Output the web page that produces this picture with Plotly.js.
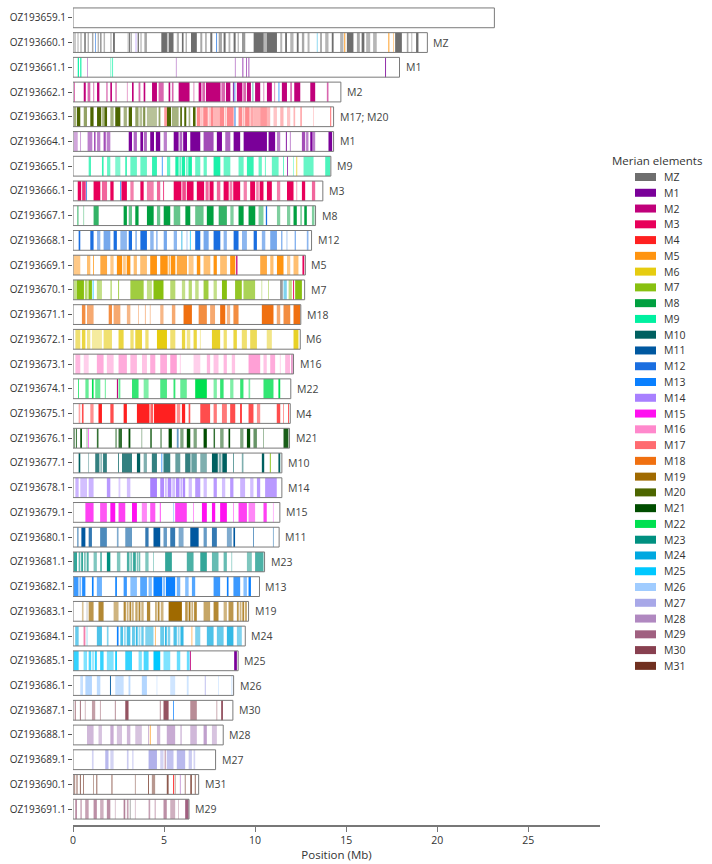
<!DOCTYPE html>
<html>
<head>
<meta charset="utf-8">
<script src="https://cdn.plot.ly/plotly-3.0.1.min.js"></script>
<style>
  html, body { margin: 0; padding: 0; background: #ffffff; }
  #chart { width: 712px; height: 864px; }
</style>
</head>
<body>
<div id="chart"></div>
<script>
// Chromosomes, their lengths (Mb) and the Merian element each one carries
const chromosomes = ['OZ193659.1','OZ193660.1','OZ193661.1','OZ193662.1','OZ193663.1','OZ193664.1','OZ193665.1','OZ193666.1','OZ193667.1','OZ193668.1','OZ193669.1','OZ193670.1','OZ193671.1','OZ193672.1','OZ193673.1','OZ193674.1','OZ193675.1','OZ193676.1','OZ193677.1','OZ193678.1','OZ193679.1','OZ193680.1','OZ193681.1','OZ193682.1','OZ193683.1','OZ193684.1','OZ193685.1','OZ193686.1','OZ193687.1','OZ193688.1','OZ193689.1','OZ193690.1','OZ193691.1'];
const chromLengths = [23.14, 19.46, 17.93, 14.71, 14.31, 14.31, 14.16, 13.72, 13.32, 13.10, 12.76, 12.72, 12.51, 12.48, 12.11, 11.96, 11.93, 11.89, 11.47, 11.47, 11.36, 11.32, 10.52, 10.24, 9.64, 9.46, 9.07, 8.82, 8.78, 8.25, 7.83, 6.90, 6.37];
const chromLabels = ['', 'MZ', 'M1', 'M2', 'M17; M20', 'M1', 'M9', 'M3', 'M8', 'M12', 'M5', 'M7', 'M18', 'M6', 'M16', 'M22', 'M4', 'M21', 'M10', 'M14', 'M15', 'M11', 'M23', 'M13', 'M19', 'M24', 'M25', 'M26', 'M30', 'M28', 'M27', 'M31', 'M29'];

// Merian elements and their colours
const elements = ['MZ','M1','M2','M3','M4','M5','M6','M7','M8','M9','M10','M11','M12','M13','M14','M15','M16','M17','M18','M19','M20','M21','M22','M23','M24','M25','M26','M27','M28','M29','M30','M31'];
const elementColors = ['#6e6e6e','#7a0099','#c0007a','#e8005a','#ff2020','#ff9410','#e6cc10','#88c010','#00a040','#00f0a0','#006060','#0058a0','#1a6ee0','#0a80ff','#a880ff','#ff10f0','#ff88cc','#ff6b70','#f07010','#a06a00','#4d6600','#004d00','#00e050','#009080','#00a8e0','#00c8ff','#a0ccff','#a8a8e8','#b088c0','#a06080','#884050','#703020'];

// Painted segments per chromosome: [start Mb, end Mb, element, opacity]
const OZ193659 = [];
const OZ193660 = [[0.07,0.15,'MZ',.5],[0.26,0.29,'MZ',1],[0.40,0.48,'MZ',.5],[0.62,0.70,'MZ',1],[0.80,0.88,'MZ',.5],[1.04,1.12,'MZ',.6],[1.22,1.26,'M12',.8],[1.35,1.43,'MZ',.5],[1.50,1.56,'MZ',1],[1.68,1.76,'MZ',.5],[2.05,2.12,'MZ',.5],[2.20,2.30,'MZ',1],[3.00,3.06,'MZ',.5],[3.08,3.14,'MZ',1],[3.17,3.24,'MZ',.5],[3.44,3.48,'M14',.8],[3.55,3.62,'MZ',1],[3.70,3.77,'MZ',.5],[3.92,4.06,'MZ',.6],[4.85,5.16,'MZ',1],[5.16,5.27,'MZ',.4],[5.27,5.52,'MZ',1],[5.70,5.82,'MZ',.5],[5.98,6.07,'MZ',1],[6.18,6.26,'MZ',.5],[6.48,6.80,'MZ',1],[6.99,7.10,'MZ',.6],[7.25,7.35,'MZ',.5],[7.54,7.65,'MZ',1],[7.87,7.91,'M12',1],[8.00,8.18,'MZ',.6],[8.27,8.38,'MZ',1],[8.54,8.64,'MZ',.5],[8.82,8.93,'MZ',1],[9.04,9.11,'MZ',.5],[9.28,9.46,'MZ',.7],[9.92,10.47,'MZ',1],[10.47,10.65,'MZ',.5],[10.65,11.20,'MZ',1],[11.38,11.49,'MZ',.5],[11.65,11.75,'MZ',1],[11.93,12.11,'MZ',.5],[12.29,12.39,'MZ',1],[12.57,12.70,'MZ',.6],[12.88,12.99,'MZ',.5],[13.39,13.43,'M24',.6],[13.57,13.67,'MZ',.6],[13.85,14.03,'MZ',.5],[14.21,14.31,'MZ',1],[14.67,14.85,'MZ',.5],[14.90,14.95,'M5',1],[15.04,15.40,'MZ',1],[15.59,15.75,'MZ',.6],[15.85,16.00,'MZ',1],[16.10,16.32,'MZ',.5],[16.48,16.68,'MZ',.5],[17.32,17.37,'M5',1],[17.58,17.63,'M5',.5],[17.69,18.06,'MZ',1],[18.33,18.42,'MZ',.6],[18.58,18.63,'MZ',.5],[18.84,18.97,'MZ',1]];
const OZ193661 = [[0.26,0.33,'M9',.9],[0.40,0.46,'M9',1],[0.77,0.81,'M1',.5],[2.05,2.10,'M9',.5],[2.14,2.20,'M9',.6],[5.65,5.69,'M1',.5],[8.89,8.93,'M1',.6],[9.31,9.35,'M1',1],[9.50,9.54,'M1',.8],[9.64,9.68,'M1',.9],[17.14,17.19,'M1',.9]];
const OZ193662 = [[0.07,0.10,'M2',1],[0.59,0.70,'M2',1],[0.80,0.95,'M2',.6],[1.13,1.16,'M2',1],[1.32,1.45,'M2',1],[1.83,1.90,'M2',.6],[2.05,2.14,'M2',1],[2.32,2.41,'M2',.5],[2.96,3.00,'M2',.5],[3.24,3.33,'M2',1],[3.60,3.70,'M2',.6],[3.88,3.97,'M2',1],[4.34,4.61,'M2',1],[4.70,4.98,'M2',.6],[5.25,5.34,'M2',1],[5.43,5.52,'M2',.6],[5.80,6.40,'M2',1],[6.62,6.66,'M2',.6],[6.90,7.05,'M2',1],[7.10,7.25,'M2',.6],[7.30,8.10,'M2',1],[8.15,8.35,'M2',.6],[8.40,8.64,'M2',1],[8.78,8.84,'M1',.8],[8.87,8.91,'M12',1],[9.00,9.30,'M2',1],[9.35,9.50,'M2',.6],[9.55,9.77,'M2',1],[9.86,9.90,'M23',.8],[10.00,10.28,'M2',1],[10.46,10.50,'M2',.6],[10.65,10.92,'M2',1],[11.05,11.10,'M2',.5],[11.29,11.33,'M13',1],[11.47,11.75,'M2',1],[11.93,12.02,'M2',.6],[12.15,12.48,'M2',1],[13.03,13.30,'M2',1],[13.94,14.03,'M2',.6]];
const OZ193663 = [[0.04,0.18,'M20',.5],[0.22,0.40,'M20',1],[0.59,0.77,'M20',.6],[0.95,1.13,'M20',1],[1.32,1.55,'M20',1],[1.60,1.70,'M20',.5],[1.72,1.87,'M20',1],[2.05,2.23,'M20',.5],[2.32,2.60,'M20',1],[2.78,2.96,'M20',.5],[3.06,3.24,'M20',1],[3.42,3.60,'M20',.6],[3.65,3.80,'M20',.4],[3.85,3.97,'M20',.7],[4.06,4.61,'M20',.4],[4.70,4.80,'M20',.6],[5.01,5.16,'M17',.7],[5.16,5.38,'M20',1],[5.43,5.80,'M20',.5],[5.89,5.98,'M20',1],[6.11,6.22,'M20',1],[6.35,6.44,'M20',.5],[6.59,6.73,'M20',1],[6.80,7.00,'M17',.8],[7.04,7.12,'M17',.5],[7.15,7.40,'M17',.8],[7.44,7.52,'M17',.4],[7.55,7.70,'M17',.8],[7.70,8.05,'M17',.5],[8.05,8.30,'M17',.8],[8.34,8.42,'M17',.4],[8.45,8.82,'M17',.8],[8.87,8.92,'M12',1],[9.09,9.30,'M17',.8],[9.34,9.42,'M17',.5],[9.45,9.70,'M17',.8],[9.74,9.90,'M17',.6],[9.90,10.28,'M17',.5],[10.28,10.65,'M17',.7],[10.65,10.83,'M17',.5],[11.01,11.20,'M17',.4],[11.38,11.56,'M17',.5],[11.75,11.93,'M17',.4],[12.11,12.20,'M17',.5],[12.48,12.57,'M17',.6],[13.19,13.23,'M17',.4],[14.12,14.18,'M17',.9]];
const OZ193664 = [[0.04,0.26,'M1',.35],[0.40,0.44,'M1',.5],[0.80,1.06,'M1',.5],[1.17,1.23,'M1',1],[1.32,1.50,'M1',.5],[1.68,1.80,'M1',.7],[1.85,2.05,'M1',.5],[3.06,3.24,'M1',1],[3.33,3.51,'M1',.6],[3.70,3.85,'M1',1],[3.90,4.06,'M1',.6],[4.24,4.45,'M1',1],[4.55,4.79,'M1',1],[4.98,5.16,'M1',.5],[5.53,5.80,'M1',1],[5.85,6.00,'M1',.6],[6.05,6.26,'M1',1],[6.44,6.99,'M1',1],[7.17,7.72,'M1',.7],[7.90,8.18,'M1',1],[8.36,8.64,'M1',.6],[8.82,9.18,'M1',1],[9.37,10.65,'M1',1],[10.74,11.10,'M1',1],[11.20,11.38,'M1',.5],[11.69,11.74,'M1',1],[11.91,11.96,'M1',.5],[12.57,12.75,'M1',.7],[12.80,12.93,'M1',.5],[13.03,13.15,'M1',1],[13.15,13.30,'M1',.5],[14.03,14.23,'M1',1]];
const OZ193665 = [[0.86,0.99,'M9',.7],[1.59,1.68,'M9',.8],[1.87,2.05,'M9',.6],[2.32,2.60,'M9',.5],[2.87,2.96,'M9',.8],[3.15,3.51,'M9',.6],[3.70,4.06,'M9',.6],[4.34,4.61,'M9',.8],[4.88,4.92,'M13',1],[5.16,5.34,'M9',.6],[5.62,5.80,'M9',.9],[5.84,5.95,'M9',.6],[5.98,6.15,'M9',.9],[6.20,6.30,'M9',.5],[6.33,6.53,'M9',.9],[6.71,6.99,'M9',.6],[7.17,7.35,'M9',.6],[7.72,8.09,'M9',.9],[8.27,8.64,'M9',.6],[9.09,9.37,'M9',.6],[9.55,9.92,'M9',.8],[10.19,10.37,'M9',.6],[10.54,10.58,'M9',.8],[10.92,11.29,'M9',.6],[11.54,11.58,'M9',.8],[11.76,11.80,'M1',1],[12.09,12.13,'M9',.5],[12.27,12.31,'M6',1],[12.66,13.21,'M9',.6],[13.85,14.12,'M9',.7]];
const OZ193666 = [[0.26,0.45,'M3',1],[0.50,0.70,'M3',.8],[0.73,0.77,'M12',1],[1.13,1.50,'M3',1],[1.59,1.87,'M3',.6],[2.05,2.23,'M3',1],[2.60,2.64,'M13',1],[2.66,2.96,'M3',1],[3.15,3.33,'M3',.5],[3.70,3.88,'M3',1],[4.06,4.43,'M3',.5],[4.61,4.79,'M3',.6],[4.96,5.00,'M3',1],[5.53,5.95,'M3',1],[6.00,6.20,'M3',.7],[6.25,6.62,'M3',1],[6.80,7.20,'M3',1],[7.28,7.45,'M3',.6],[7.50,7.72,'M3',1],[7.90,8.09,'M3',.6],[8.27,8.55,'M3',1],[8.60,8.75,'M3',.5],[8.80,9.18,'M3',1],[9.37,9.55,'M3',.5],[9.73,10.00,'M3',1],[10.06,10.20,'M3',.5],[10.25,10.46,'M3',1],[10.65,10.92,'M3',1],[11.20,11.38,'M3',.5],[11.75,12.11,'M3',1],[12.27,12.31,'M3',.5],[12.57,12.75,'M3',1],[13.12,13.30,'M3',.6]];
const OZ193667 = [[0.22,0.31,'M8',.5],[0.57,0.61,'M8',.5],[1.13,1.41,'M8',.8],[2.78,2.96,'M8',1],[3.06,3.24,'M8',.6],[3.42,3.60,'M8',1],[4.06,4.43,'M8',1],[4.61,4.79,'M8',.6],[4.98,5.34,'M8',1],[5.53,5.89,'M8',.6],[6.17,6.44,'M8',1],[6.71,7.17,'M8',.6],[7.35,7.72,'M8',1],[8.00,8.45,'M8',.8],[8.64,8.82,'M8',.5],[9.09,9.37,'M8',1],[9.64,10.01,'M8',1],[10.19,10.46,'M8',.5],[10.59,10.66,'M12',1],[11.20,11.38,'M8',.5],[11.75,11.93,'M8',.5],[12.11,12.29,'M8',1],[12.48,12.57,'M8',.5],[12.70,12.84,'M8',1],[13.12,13.26,'M8',.5]];
const OZ193668 = [[0.31,0.40,'M12',1],[0.95,1.13,'M12',1],[1.32,1.50,'M12',.5],[1.68,2.05,'M12',.6],[2.23,2.41,'M12',1],[2.60,2.96,'M12',.5],[3.06,3.24,'M12',1],[3.42,3.51,'M12',.5],[3.70,4.06,'M12',1],[4.24,4.43,'M12',.5],[4.59,4.63,'M12',1],[4.98,5.16,'M12',.6],[5.53,5.71,'M12',.5],[5.96,6.00,'M24',1],[6.24,6.28,'M12',.5],[6.42,6.46,'M25',1],[6.71,6.99,'M12',1],[7.17,7.45,'M12',.6],[7.72,8.09,'M12',1],[8.27,8.45,'M12',.5],[8.82,9.09,'M12',1],[9.28,9.55,'M12',.5],[9.92,10.10,'M12',1],[10.37,10.56,'M12',.5],[10.83,11.20,'M12',.6],[11.45,11.49,'M12',1],[11.73,11.77,'M12',.5],[12.18,12.22,'M12',1],[12.84,12.93,'M12',.5]];
const OZ193669 = [[0.03,0.40,'M5',.5],[0.77,0.95,'M5',.6],[1.11,1.15,'M5',1],[1.50,1.87,'M5',.8],[2.05,2.23,'M5',.5],[2.41,2.70,'M5',1],[2.75,2.90,'M5',.5],[2.95,3.15,'M5',1],[3.33,3.51,'M5',.6],[3.69,4.06,'M5',.6],[4.24,4.61,'M5',1],[4.79,5.20,'M5',1],[5.25,5.35,'M5',.6],[5.38,5.62,'M5',1],[5.70,6.26,'M5',.8],[6.35,6.62,'M5',.5],[6.80,6.99,'M5',1],[7.17,7.54,'M5',.6],[7.72,7.90,'M5',1],[8.08,8.45,'M5',.6],[8.63,8.91,'M5',1],[8.96,9.03,'M2',1],[10.28,10.65,'M5',.8],[10.83,11.01,'M5',.6],[11.20,11.56,'M5',1],[11.75,11.93,'M5',.5],[12.11,12.38,'M5',.6],[12.60,12.70,'M3',1]];
const OZ193670 = [[0.03,0.22,'M7',.5],[0.22,0.60,'M7',1],[0.65,0.80,'M7',.6],[0.85,1.04,'M7',1],[1.08,1.13,'M25',.8],[1.31,1.59,'M7',.5],[2.05,2.14,'M7',.5],[2.48,2.53,'M7',.8],[3.15,3.88,'M7',.8],[4.06,4.33,'M7',.5],[4.42,4.97,'M7',1],[5.34,5.62,'M7',.6],[5.98,6.16,'M7',.5],[6.35,6.53,'M7',.6],[6.71,6.90,'M7',.5],[7.17,7.44,'M7',.8],[7.72,7.90,'M7',.5],[8.18,8.45,'M7',1],[8.90,9.27,'M7',.9],[9.36,10.00,'M7',.7],[10.35,10.39,'M7',.5],[10.72,10.76,'M7',.6],[11.37,11.52,'MZ',.7],[11.56,11.74,'M24',.5],[11.84,12.02,'M7',.5],[12.09,12.14,'M3',1],[12.20,12.57,'M7',1]];
const OZ193671 = [[0.49,0.68,'M18',.8],[0.77,1.13,'M18',.6],[1.96,2.14,'M18',.8],[2.23,2.60,'M18',.6],[2.96,3.15,'M18',.5],[3.58,3.62,'M18',.5],[3.95,3.99,'M18',.6],[4.22,4.26,'M18',.5],[4.79,4.97,'M18',.5],[5.43,5.62,'M18',.6],[6.07,6.53,'M18',1],[6.90,7.35,'M18',.8],[7.53,7.80,'M18',.6],[8.08,8.36,'M18',1],[8.45,8.63,'M18',.5],[8.81,9.09,'M18',.8],[10.37,11.01,'M18',1],[11.19,11.38,'M18',.6],[11.56,11.93,'M18',.8],[12.11,12.48,'M18',1]];
const OZ193672 = [[0.13,0.40,'M6',.6],[0.49,0.68,'M6',.8],[0.77,0.95,'M6',.5],[1.04,1.59,'M6',.4],[1.68,2.14,'M6',.6],[2.50,2.78,'M6',.8],[3.15,3.33,'M6',.6],[3.42,3.79,'M6',.8],[3.97,4.15,'M6',.6],[4.61,5.16,'M6',1],[5.34,5.62,'M6',.6],[5.98,6.16,'M6',.8],[6.25,6.44,'M6',.5],[6.62,6.80,'M6',.8],[6.97,7.01,'M6',.5],[7.63,8.08,'M6',.9],[8.27,8.45,'M6',.6],[8.81,9.00,'M6',.8],[9.27,9.55,'M6',.6],[9.73,10.10,'M6',.7],[10.64,10.92,'M6',.5],[12.11,12.38,'M6',.9]];
const OZ193673 = [[0.13,0.40,'M16',.6],[0.59,0.86,'M16',.4],[1.31,1.68,'M16',.7],[1.86,2.23,'M16',.5],[2.50,2.96,'M16',.7],[3.15,3.51,'M16',.6],[3.79,4.06,'M16',.5],[4.24,4.52,'M16',.7],[4.79,5.16,'M16',.7],[5.34,5.70,'M16',.8],[5.87,5.91,'M16',.5],[6.62,6.99,'M16',.4],[7.35,7.53,'M16',.6],[7.72,7.99,'M16',.5],[8.27,8.45,'M16',.6],[8.72,8.90,'M16',.5],[9.64,10.28,'M16',.8],[10.46,10.64,'M16',.5],[10.83,11.10,'M16',.7],[11.36,11.40,'M16',.5],[11.65,11.92,'M16',.6],[12.00,12.05,'M2',.8]];
const OZ193674 = [[0.29,0.33,'M22',1],[0.68,0.86,'M22',.6],[1.04,1.13,'M22',1],[1.22,1.50,'M22',.6],[1.75,1.79,'M22',.8],[2.41,2.47,'M2',1],[2.50,2.60,'M22',.6],[3.24,3.60,'M22',.8],[3.88,4.15,'M22',.5],[4.79,5.16,'M22',.7],[5.52,5.62,'M22',.8],[5.89,6.25,'M22',.6],[6.71,7.35,'M22',1],[7.72,7.90,'M22',.5],[8.08,8.27,'M22',.8],[8.63,8.81,'M22',.5],[9.18,9.36,'M22',.8],[9.64,9.73,'M22',.5],[10.46,11.01,'M22',.8],[11.28,11.38,'M22',1]];
const OZ193675 = [[0.31,0.40,'M4',.4],[0.49,0.58,'M4',.8],[0.95,1.13,'M4',.5],[1.40,1.59,'M4',1],[2.05,2.23,'M4',.8],[2.78,2.96,'M4',1],[3.51,4.20,'M4',1],[4.25,4.40,'M4',.7],[4.45,5.62,'M4',1],[5.70,5.89,'M4',.5],[5.98,6.16,'M4',1],[6.35,6.44,'M4',.8],[6.99,7.53,'M4',.8],[7.72,7.90,'M4',.6],[8.18,8.45,'M4',.6],[8.63,8.91,'M4',.8],[9.18,9.27,'M4',1],[9.64,9.91,'M4',.8],[10.10,10.28,'M4',.5],[11.19,11.38,'M4',.8],[11.54,11.58,'M4',.6],[11.81,11.85,'M4',1]];
const OZ193676 = [[0.03,0.12,'M21',.5],[0.18,0.22,'M21',1],[0.40,0.49,'M21',1],[0.75,0.79,'M21',.5],[0.84,0.88,'M15',.8],[1.31,1.40,'M21',.8],[2.32,2.41,'M21',.5],[2.50,2.69,'M21',.8],[3.05,3.15,'M21',1],[3.76,3.80,'M21',.5],[4.24,4.33,'M21',.8],[4.79,4.88,'M21',.5],[5.25,5.43,'M21',1],[5.70,5.80,'M11',.6],[5.89,6.07,'M21',.5],[6.25,6.44,'M21',1],[6.62,6.80,'M21',.5],[7.17,7.35,'M21',1],[7.72,7.80,'M21',.8],[8.08,8.27,'M21',.5],[8.54,8.63,'M21',1],[9.18,9.36,'M21',.5],[9.55,9.73,'M21',1],[9.91,10.10,'M21',.6],[10.44,10.48,'M21',.5],[11.56,11.83,'M21',.9]];
const OZ193677 = [[0.31,0.40,'M10',1],[0.84,0.88,'M10',.5],[1.22,1.45,'M10',.8],[1.50,1.60,'M10',.4],[1.65,1.86,'M10',.8],[2.48,2.52,'M10',1],[2.69,3.24,'M10',.8],[3.51,3.69,'M10',1],[3.88,4.06,'M10',.5],[4.33,4.61,'M10',.8],[4.86,4.90,'M13',1],[4.97,5.34,'M10',.8],[5.62,5.89,'M10',.6],[6.16,6.45,'M10',.8],[6.50,6.80,'M10',.6],[6.99,7.35,'M10',.5],[7.63,7.95,'M10',1],[8.00,8.15,'M10',.5],[8.20,8.45,'M10',1],[8.79,8.83,'M10',.8],[9.27,9.36,'M10',.5],[10.37,10.50,'M10',1],[10.81,10.86,'M7',1],[11.28,11.38,'M10',1]];
const OZ193678 = [[0.13,0.31,'M14',.6],[0.40,0.77,'M14',.5],[0.86,1.13,'M14',.6],[1.86,2.05,'M14',.8],[2.50,2.60,'M14',.4],[2.96,3.15,'M14',.5],[4.24,4.61,'M14',1],[4.79,5.00,'M14',.9],[5.05,5.15,'M14',.5],[5.20,5.40,'M14',.9],[5.45,5.60,'M14',.5],[5.65,5.85,'M14',.9],[5.90,6.00,'M14',.6],[6.03,6.16,'M14',.9],[6.35,6.53,'M14',.5],[6.71,6.99,'M14',.8],[7.17,7.35,'M14',.5],[7.72,7.90,'M14',.8],[8.18,8.36,'M14',.5],[8.63,8.81,'M14',.8],[9.18,9.45,'M14',.6],[9.73,9.91,'M14',.5],[10.10,10.28,'M14',.8],[10.55,11.19,'M14',.8]];
const OZ193679 = [[0.68,1.13,'M15',.8],[1.49,1.86,'M15',.7],[2.05,2.32,'M15',1],[2.50,2.87,'M15',.8],[3.24,3.51,'M15',1],[3.78,4.06,'M15',.5],[4.24,4.52,'M15',.7],[4.77,4.81,'M15',1],[5.50,5.55,'M26',.9],[5.61,6.25,'M15',.8],[6.60,6.64,'M15',.6],[7.08,7.35,'M15',1],[7.63,7.81,'M15',1],[8.08,8.45,'M15',1],[8.79,8.83,'M15',.6],[9.09,9.55,'M15',.8],[9.64,10.00,'M15',.5],[10.46,10.64,'M15',.8],[10.98,11.02,'M15',.4]];
const OZ193680 = [[0.22,0.31,'M11',.5],[0.46,0.68,'M11',1],[0.86,1.04,'M11',.8],[1.49,1.86,'M11',.7],[2.41,2.50,'M11',.5],[2.87,3.24,'M11',.6],[3.97,4.15,'M11',.8],[4.42,4.79,'M11',1],[4.97,5.16,'M11',.6],[5.34,5.61,'M11',.8],[5.80,6.07,'M11',.5],[6.44,6.90,'M11',1],[7.17,7.35,'M11',.6],[7.63,7.90,'M11',.8],[8.45,8.72,'M11',.5],[8.81,8.90,'M11',1],[9.89,9.93,'M11',.8],[10.98,11.02,'M11',.6]];
const OZ193681 = [[0.03,0.22,'M23',.8],[0.31,0.40,'M23',.6],[0.45,0.55,'M23',.8],[0.60,0.70,'M23',.5],[0.75,0.86,'M23',.7],[1.13,1.31,'M23',.5],[1.49,1.59,'M23',.6],[1.86,2.05,'M23',1],[2.41,2.60,'M23',.5],[2.96,3.10,'M23',.7],[3.15,3.25,'M23',.5],[3.30,3.45,'M23',.8],[3.50,3.60,'M23',.5],[3.64,3.69,'M23',.8],[3.97,4.15,'M23',.5],[4.40,4.44,'M23',.5],[5.06,5.43,'M23',.8],[6.25,6.62,'M23',.7],[6.99,7.35,'M23',.8],[7.63,7.99,'M23',.6],[8.27,8.45,'M23',.6],[8.70,8.74,'M23',.5],[9.55,9.82,'M23',.5],[10.00,10.46,'M23',.7]];
const OZ193682 = [[0.03,0.30,'M13',.8],[0.35,0.45,'M13',.5],[0.50,0.68,'M13',.9],[1.04,1.13,'M13',1],[1.31,1.59,'M13',.6],[2.32,2.41,'M13',1],[2.78,2.96,'M13',.8],[3.15,3.51,'M13',.5],[3.69,4.06,'M13',.7],[4.15,4.33,'M13',.5],[4.42,4.90,'M13',1],[4.95,5.05,'M13',.5],[5.10,5.61,'M13',1],[5.70,5.89,'M13',.6],[6.16,6.35,'M13',.5],[6.53,6.71,'M13',.7],[7.72,8.08,'M13',.8],[8.45,8.54,'M13',1],[8.81,9.18,'M13',.8],[9.36,9.55,'M13',.5],[9.64,9.77,'M13',1]];
const OZ193683 = [[0.49,0.58,'M19',.4],[0.75,0.79,'MZ',.5],[0.86,1.13,'M19',.7],[1.40,1.68,'M19',.8],[2.23,2.50,'M19',.5],[2.78,2.90,'M19',.8],[2.95,3.05,'M19',.5],[3.10,3.20,'M19',.8],[3.25,3.33,'M19',.6],[3.42,3.55,'M19',.6],[3.60,3.70,'M19',.8],[3.75,3.88,'M19',.5],[4.06,4.24,'M19',.8],[4.51,4.60,'M19',.6],[4.65,4.75,'M19',.8],[4.82,4.97,'M19',.5],[5.25,5.98,'M19',1],[6.16,6.30,'M19',.7],[6.35,6.45,'M19',.9],[6.50,6.60,'M19',.5],[6.65,6.80,'M19',.8],[7.17,7.53,'M19',.6],[7.72,7.99,'M19',.8],[8.27,8.45,'M19',.5],[8.54,8.81,'M19',.7],[9.00,9.10,'M19',.7],[9.15,9.25,'M19',.5],[9.30,9.40,'M19',.8],[9.45,9.55,'M19',.6]];
const OZ193684 = [[0.12,0.31,'M24',.6],[0.58,0.68,'M3',.5],[0.75,0.79,'M24',.5],[1.31,1.59,'M24',.7],[1.86,1.95,'M24',.5],[2.41,2.50,'M13',1],[2.60,2.75,'M24',.7],[2.80,2.90,'M24',.4],[2.95,3.15,'M24',.7],[3.24,3.40,'M24',.6],[3.45,3.55,'M24',.8],[3.60,3.70,'M24',.4],[3.75,3.88,'M24',.6],[3.97,4.42,'M24',.5],[4.50,4.54,'M5',.8],[4.79,5.00,'M24',.6],[5.05,5.15,'M24',.8],[5.20,5.34,'M24',.5],[5.52,5.70,'M24',.7],[5.75,5.85,'M24',.4],[5.90,6.07,'M24',.8],[6.51,6.55,'M5',.8],[6.71,6.99,'M24',.5],[7.35,7.72,'M24',.7],[7.90,8.27,'M24',.6],[8.45,8.81,'M24',.8],[9.00,9.27,'M24',.5]];
const OZ193685 = [[0.03,0.31,'M25',.8],[0.58,0.77,'M25',.5],[0.86,1.00,'M25',.7],[1.05,1.15,'M25',.4],[1.20,1.31,'M25',.8],[1.49,1.68,'M25',.8],[1.86,2.23,'M25',.5],[2.32,2.41,'M25',1],[2.87,3.24,'M25',.8],[3.60,3.78,'M25',.5],[3.88,4.15,'M25',.7],[4.42,4.79,'M25',1],[4.97,5.34,'M25',.5],[5.70,5.89,'M25',.6],[6.25,6.40,'M25',.6],[6.42,6.47,'M2',1],[8.85,9.00,'M1',1]];
const OZ193686 = [[0.40,0.55,'M26',.6],[0.68,1.04,'M26',.8],[1.31,1.50,'M26',.7],[2.03,2.08,'M11',1],[2.32,2.78,'M26',.6],[3.05,3.15,'M26',.7],[3.78,4.06,'M26',.8],[4.59,4.63,'M26',.5],[5.34,5.61,'M26',.5],[6.25,6.35,'M26',.5],[7.24,7.28,'M27',1],[7.97,8.01,'M26',.5],[8.70,8.75,'M26',.6]];
const OZ193687 = [[0.10,0.14,'M30',1],[0.38,0.42,'M30',1],[0.65,0.69,'M30',.5],[1.04,1.22,'M30',.5],[1.48,1.52,'M30',.6],[2.30,2.34,'M30',.8],[2.87,3.05,'M30',.9],[4.77,4.81,'M30',.8],[4.97,5.25,'M30',.9],[5.50,5.54,'M13',1],[6.44,6.80,'M30',.6],[7.88,7.92,'M30',.6],[8.14,8.23,'M30',1]];
const OZ193688 = [[0.77,1.13,'M28',.6],[1.40,1.59,'M28',.5],[2.05,2.23,'M28',.7],[2.41,2.69,'M28',.5],[2.96,3.15,'M28',.6],[3.42,3.78,'M28',.5],[4.13,4.17,'M28',.8],[4.22,4.26,'M5',1],[4.61,4.79,'M28',.6],[5.15,5.61,'M28',.7],[5.89,5.98,'M28',.5],[6.44,6.80,'M28',.6],[7.17,7.35,'M28',.8],[7.63,7.90,'M28',.5]];
const OZ193689 = [[1.04,1.13,'M27',.5],[1.77,1.95,'M27',.8],[2.05,2.23,'M27',.5],[2.96,3.05,'M27',.6],[3.24,3.33,'M27',.4],[4.15,4.61,'M27',.9],[4.79,4.97,'M27',.5],[5.04,5.08,'M29',1],[5.15,5.52,'M27',.7],[5.70,6.16,'M27',.8],[6.35,6.53,'M27',.6],[6.62,6.71,'M27',.5]];
const OZ193690 = [[0.03,0.12,'M31',.5],[0.20,0.24,'M31',1],[0.38,0.42,'M31',1],[0.56,0.60,'M31',.8],[1.11,1.15,'M31',.6],[1.29,1.33,'M31',1],[2.12,2.16,'M31',1],[3.40,3.44,'M31',.6],[4.13,4.17,'M31',1],[4.33,4.51,'M31',.5],[5.15,5.25,'M31',.8],[5.50,5.55,'M4',1],[5.59,5.63,'M31',.6],[5.87,5.91,'M1',.5],[6.14,6.18,'M31',.8],[6.44,6.53,'M31',.8],[6.69,6.73,'M31',1]];
const OZ193691 = [[0.12,0.22,'M29',.7],[0.40,0.49,'M29',.5],[0.67,0.86,'M29',.6],[1.13,1.31,'M29',.7],[1.49,1.68,'M29',.5],[1.86,2.05,'M29',.7],[2.30,2.34,'M29',.5],[2.78,2.87,'M29',.8],[2.96,3.05,'M29',.6],[3.12,3.16,'MZ',.8],[3.40,3.44,'M29',.5],[4.15,4.24,'M29',.6],[4.49,4.53,'M29',.8],[4.97,5.15,'M29',.7],[5.34,5.61,'M29',.5],[5.77,5.81,'M29',.5],[6.16,6.35,'M29',1]];

const segmentSets = [OZ193659, OZ193660, OZ193661, OZ193662, OZ193663, OZ193664, OZ193665, OZ193666, OZ193667, OZ193668, OZ193669, OZ193670, OZ193671, OZ193672, OZ193673, OZ193674, OZ193675, OZ193676, OZ193677, OZ193678, OZ193679, OZ193680, OZ193681, OZ193682, OZ193683, OZ193684, OZ193685, OZ193686, OZ193687, OZ193688, OZ193689, OZ193690, OZ193691];

function rgba(hex, a) {
  const n = parseInt(hex.slice(1), 16);
  return 'rgba(' + ((n >> 16) & 255) + ',' + ((n >> 8) & 255) + ',' + (n & 255) + ',' + a + ')';
}

// One horizontal bar trace per element; each segment is a bar with its own base
const traces = [];
elements.forEach(function (el, ei) {
  const ys = [], bases = [], widths = [], cols = [];
  segmentSets.forEach(function (segs, ci) {
    segs.forEach(function (s) {
      if (s[2] !== el) return;
      ys.push(chromosomes[ci]);
      bases.push(s[0]);
      widths.push(s[1] - s[0]);
      cols.push(rgba(elementColors[ei], s[3]));
    });
  });
  if (!ys.length) return;
  traces.push({
    type: 'bar', orientation: 'h', name: el,
    y: ys, x: widths, base: bases, width: 0.8,
    marker: { color: cols, line: { width: 0 } },
    showlegend: false, hoverinfo: 'skip'
  });
});

// Chromosome outlines
traces.push({
  type: 'bar', orientation: 'h', name: 'chromosome',
  y: chromosomes, x: chromLengths, base: chromLengths.map(function () { return 0; }),
  width: 0.8,
  marker: { color: 'rgba(0,0,0,0)', line: { color: '#7a7a7a', width: 1 } },
  showlegend: false, hoverinfo: 'skip'
});

const M = { l: 73, r: 112, t: 2, b: 39 };
const W = 712, H = 864;
const plotW = W - M.l - M.r, plotH = H - M.t - M.b;
const px2x = function (px) { return (px - M.l) / plotW; };
const px2y = function (py) { return 1 - (py - M.t) / plotH; };

const annotations = [];
chromosomes.forEach(function (c, i) {
  if (!chromLabels[i]) return;
  annotations.push({
    x: chromLengths[i], y: c, xref: 'x', yref: 'y', text: chromLabels[i],
    showarrow: false, xanchor: 'left', yanchor: 'middle', xshift: 4,
    font: { family: 'Open Sans', size: 10.5, color: '#444' }
  });
});

// Element key on the right
const shapes = [];
annotations.push({
  x: px2x(657), y: px2y(160), xref: 'paper', yref: 'paper', text: 'Merian elements',
  showarrow: false, xanchor: 'center', yanchor: 'middle',
  font: { family: 'Open Sans', size: 11.5, color: '#333' }
});
elements.forEach(function (el, i) {
  const cy = 177 + i * 15.77;
  shapes.push({
    type: 'rect', xref: 'paper', yref: 'paper',
    x0: px2x(635), x1: px2x(656), y0: px2y(cy - 4), y1: px2y(cy + 4),
    fillcolor: elementColors[i], line: { width: 0 }
  });
  annotations.push({
    x: px2x(662), y: px2y(cy), xref: 'paper', yref: 'paper', text: el,
    showarrow: false, xanchor: 'left', yanchor: 'middle',
    font: { family: 'Open Sans', size: 10.5, color: '#333' }
  });
});

const layout = {
  width: W, height: H,
  margin: M,
  paper_bgcolor: '#ffffff', plot_bgcolor: '#ffffff',
  barmode: 'overlay', bargap: 0.2,
  showlegend: false,
  font: { family: 'Open Sans', color: '#444' },
  xaxis: {
    range: [0, 28.94], tickvals: [0, 5, 10, 15, 20, 25],
    showgrid: false, zeroline: false,
    showline: true, linecolor: '#777', linewidth: 1.5,
    ticks: 'outside', ticklen: 5, tickcolor: '#777', tickwidth: 1,
    tickfont: { family: 'Open Sans', size: 10.5, color: '#333' },
    title: { text: 'Position (Mb)', font: { family: 'Open Sans', size: 11.5, color: '#333' }, standoff: 3 }
  },
  yaxis: {
    type: 'category', categoryorder: 'array', categoryarray: chromosomes,
    range: [32.64, -0.64],
    showgrid: false, zeroline: false, showline: false,
    ticks: 'outside', ticklen: 4, tickcolor: '#555', tickwidth: 1,
    tickfont: { family: 'Open Sans', size: 10, color: '#333' }
  },
  shapes: shapes,
  annotations: annotations
};

Plotly.newPlot('chart', traces, layout, { displayModeBar: false, staticPlot: true });
</script>
</body>
</html>
